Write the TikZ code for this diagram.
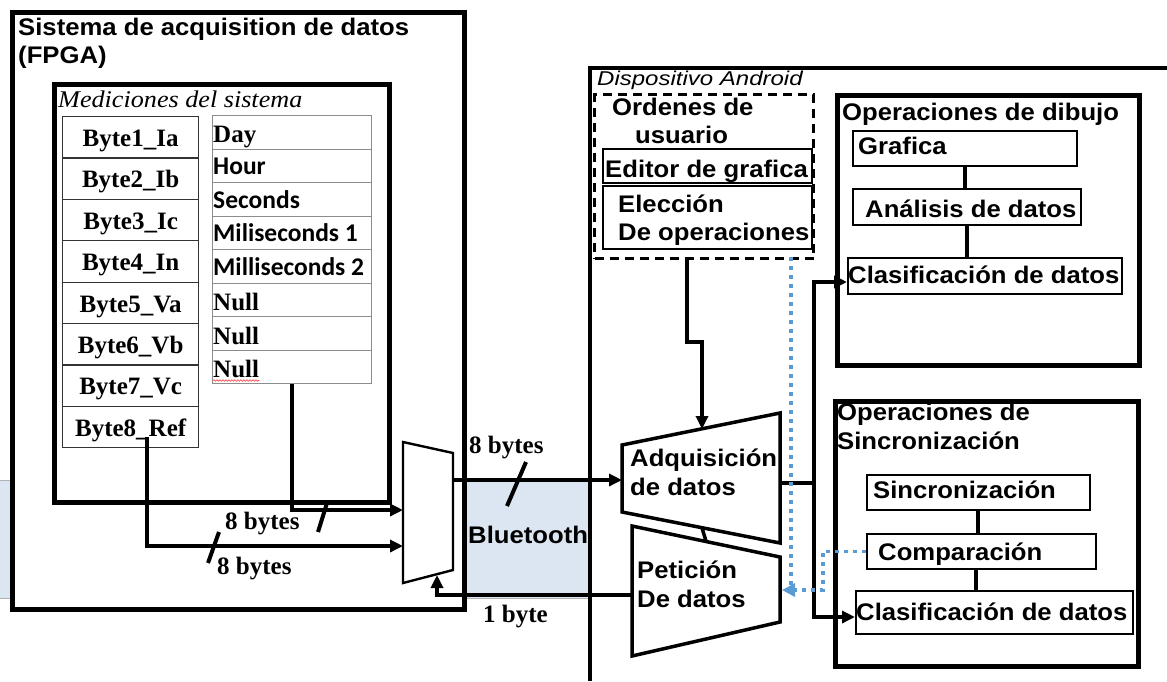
\documentclass[tikz,border=0pt]{standalone}
\usepackage{fontspec}
\setmainfont{Liberation Serif}
\newfontfamily\arialf{Liberation Sans}
\newfontfamily\calf{Carlito}
\usetikzlibrary{arrows.meta,decorations.pathmorphing,calc}
\definecolor{btblue}{HTML}{DCE6F2}
\definecolor{dotblue}{HTML}{5B9BD5}

\begin{document}
\begin{tikzpicture}[x=1pt,y=-1pt,
  rbox/.style={draw, rectangle, inner sep=0pt, anchor=north west},
  bigbox/.style={rbox, line width=4.8pt},
  smallbox/.style={rbox, line width=1.8pt},
  cellL/.style={rbox, draw=black!80, line width=1.3pt, minimum width=136pt, minimum height=41.375pt},
  cellR/.style={rbox, draw=black!45, line width=1pt, minimum width=159pt, minimum height=33.5pt},
  txsans/.style={font=\arialf\bfseries\fontsize{24}{28}\selectfont, inner sep=0pt, anchor=base west, xscale=1.07},
  txserif/.style={font=\bfseries\fontsize{25}{28}\selectfont, inner sep=0pt, anchor=base west},
  txcal/.style={font=\calf\bfseries\fontsize{25.5}{28}\selectfont, inner sep=0pt, anchor=base west},
  conn/.style={line width=4pt},
  arr/.style={-{Triangle[length=13pt,width=12pt]}},
  bluedots/.style={draw=dotblue, line width=3.5pt, dash pattern=on 4pt off 5pt},
  slash/.style={line width=4pt},
  trap/.style={line width=3.5pt, line join=miter},
]
\useasboundingbox (0,0) rectangle (1167,681);

% Bluetooth link band
\fill[btblue] (0,480) rectangle (588,598);
\draw[gray!60, line width=1pt] (0,480) -- (588,480) (0,598) -- (588,598);

% ---------- FPGA side ----------
\node[bigbox, fill=white, minimum width=452pt, minimum height=597pt] (fpga) at (10,10) {};
\node[txsans] (fpgaT1) at (18,35) {Sistema de acquisition de datos};
\node[txsans] (fpgaT2) at (18,63) {(FPGA)};

\node[bigbox, minimum width=335pt, minimum height=418pt] (meas) at (52,82) {};
\node[font=\itshape\fontsize{24}{28}\selectfont, inner sep=0pt, anchor=base west, xscale=1.09] (measT) at (58,107) {Mediciones del sistema};

% byte table
\foreach \i/\t in {1/Byte1\_Ia, 2/Byte2\_Ib, 3/Byte3\_Ic, 4/Byte4\_In, 5/Byte5\_Va, 6/Byte6\_Vb, 7/Byte7\_Vc, 8/Byte8\_Ref} {
  \node[cellL] (L\i) at (62, {116+41.375*(\i-1)}) {};
  \node[txserif, anchor=base] (Lt\i) at ($(L\i.north)+(0,30.5)$) {\t};
}

% time stamp table
\foreach \i in {1,...,8} {
  \node[cellR] (R\i) at (212, {115+33.5*(\i-1)}) {};
}
\node[txserif] (Rt1) at ($(R1.north west)+(1,27)$) {Day};
\node[txcal]   (Rt2) at ($(R2.north west)+(1,26)$) {Hour};
\node[txcal]   (Rt3) at ($(R3.north west)+(1,26)$) {Seconds};
\node[txcal]   (Rt4) at ($(R4.north west)+(1,26)$) {Miliseconds 1};
\node[txcal]   (Rt5) at ($(R5.north west)+(1,26)$) {Milliseconds 2};
\node[txserif] (Rt6) at ($(R6.north west)+(1,28)$) {Null};
\node[txserif] (Rt7) at ($(R7.north west)+(1,28)$) {Null};
\node[txserif] (Rt8) at ($(R8.north west)+(1,28)$) {Null};
\draw[red!80, line width=0.6pt, decorate, decoration={snake, amplitude=0.8pt, segment length=3pt}]
  ($(Rt8.base west)+(0,3)$) -- ($(Rt8.base east)+(0,3)$);

% multiplexer
\coordinate (muxA) at (403,442);
\coordinate (muxB) at (453,453);
\coordinate (muxC) at (453,570);
\coordinate (muxD) at (403,583);
\draw[line width=2.4pt, line join=miter] (muxA) -- (muxB) -- (muxC) -- (muxD) -- cycle;
\coordinate (muxIn1) at (403,510);
\coordinate (muxIn2) at (403,546);
\coordinate (muxOut) at (453,480);
\coordinate (muxRet) at (437,575);
\coordinate (refTap) at (147,437);

\draw[conn,arr] (R8.south) |- (muxIn1);
\draw[conn,arr] (refTap) |- (muxIn2);
\draw[slash] (318,532) -- (327,503);
\draw[slash] (208,563) -- (219,532);
\node[txserif] (bytesA) at (225,529) {8 bytes};
\node[txserif] (bytesB) at (217,574) {8 bytes};

% ---------- Android side ----------
\draw[line width=4.8pt] (1167,68) -- (590,68) -- (590,681);
\node[font=\arialf\itshape\fontsize{20}{24}\selectfont, inner sep=0pt, anchor=base west, xscale=1.2] (andT) at (597,85) {Dispositivo Android};

\node[rbox, line width=3.2pt, dash pattern=on 9pt off 6pt, minimum width=219pt, minimum height=164pt] (ordenes) at (593,93) {};
\node[txsans] (ordT1) at (612,115) {Ordenes de};
\node[txsans] (ordT2) at (635,143) {usuario};
\node[rbox, line width=2.2pt, minimum width=209pt, minimum height=34pt] (editor) at (602,148) {};
\node[txsans] (editorT) at (605,177) {Editor de grafica};
\node[rbox, line width=2.2pt, minimum width=209pt, minimum height=63pt] (elec) at (602,185) {};
\node[txsans] (elecT1) at (618,212) {Elección};
\node[txsans] (elecT2) at (618,240) {De operaciones};

% acquisition and request blocks
\coordinate (adqA) at (622,445);
\coordinate (adqB) at (780,413);
\coordinate (adqC) at (780,543);
\coordinate (adqD) at (622,512);
\draw[trap] (adqA) -- (adqB) -- (adqC) -- (adqD) -- cycle;
\node[txsans] (adqT1) at (630,466) {Adquisición};
\node[txsans] (adqT2) at (630,495) {de datos};

\coordinate (petA) at (632,526);
\coordinate (petB) at (780,557);
\coordinate (petC) at (780,622);
\coordinate (petD) at (632,656);
\draw[trap] (petA) -- (petB) -- (petC) -- (petD) -- cycle;
\node[txsans] (petT1) at (637,578) {Petición};
\node[txsans] (petT2) at (637,607) {De datos};

\coordinate (adqIn) at (622,480);
\coordinate (adqTop) at (702,429);
\coordinate (adqBot) at (702,528);
\coordinate (adqOut) at (780,483);
\coordinate (petTop) at (706,541);
\coordinate (petOut) at (632,595);
\coordinate (petBlue) at (782,590);
\coordinate (ordOut) at (687,257);
\coordinate (ordBlue) at (791,257);

% Bluetooth link
\node[txsans] (btT) at (468,543) {Bluetooth};
\draw[conn,arr] (muxOut) -- (adqIn);
\draw[slash] (507,506) -- (526,462);
\node[txserif] (bytesC) at (469,453) {8 bytes};
\draw[conn,arr] (petOut) -| (muxRet);
\node[txserif] (byteD) at (483,622) {1 byte};

\draw[conn,arr] (ordOut) -- ++(0,85) -| (adqTop);
\draw[line width=3.5pt] (adqBot) -- (petTop);

% drawing operations
\node[bigbox, minimum width=302pt, minimum height=270pt] (dib) at (835,93) {};
\node[txsans] (dibT) at (842,120) {Operaciones de dibujo};
\node[smallbox, minimum width=224pt, minimum height=35pt] (graf) at (852,130) {};
\node[txsans] (grafT) at (858,154) {Grafica};
\node[smallbox, minimum width=228pt, minimum height=36pt] (anal) at (852,188) {};
\node[txsans] (analT) at (865,217) {Análisis de datos};
\node[smallbox, minimum width=274pt, minimum height=36pt] (clasA) at (847,257) {};
\node[txsans] (clasAT) at (848,283) {Clasificación de datos};
\draw[conn] (graf.south) -- (graf.south |- anal.north);
\draw[conn] (anal.south) -- (anal.south |- clasA.north);

% synchronisation operations
\node[bigbox, minimum width=303pt, minimum height=265pt] (sincBox) at (833,399) {};
\node[txsans] (sincBoxT1) at (837,420) {Operaciones de};
\node[txsans] (sincBoxT2) at (837,449) {Sincronización};
\node[smallbox, minimum width=223pt, minimum height=35pt] (sinc) at (866,474) {};
\node[txsans] (sincT) at (873,498) {Sincronización};
\node[smallbox, minimum width=229pt, minimum height=35pt] (comp) at (866,533) {};
\node[txsans] (compT) at (878,560) {Comparación};
\node[smallbox, minimum width=277pt, minimum height=43pt] (clasB) at (855,590) {};
\node[txsans] (clasBT) at (856,620) {Clasificación de datos};
\draw[conn] (sinc.south) -- (sinc.south |- comp.north);
\draw[conn] ([xshift=-5pt]comp.south) -- ([xshift=-5pt]comp.south |- clasB.north);

\coordinate (clasAIn) at (847,282);
\coordinate (clasBIn) at (855,617);
\draw[conn,arr] (adqOut) -- ++(34,0) |- (clasAIn);
\draw[conn,arr] (adqOut) -- ++(34,0) |- (clasBIn);

% feedback paths
\draw[bluedots] (ordBlue) |- (petBlue);
\draw[bluedots, -{Triangle[length=13pt,width=13pt]}, dotblue] (comp.west) -- ++(-43,0) |- (petBlue);
\end{tikzpicture}
\end{document}
